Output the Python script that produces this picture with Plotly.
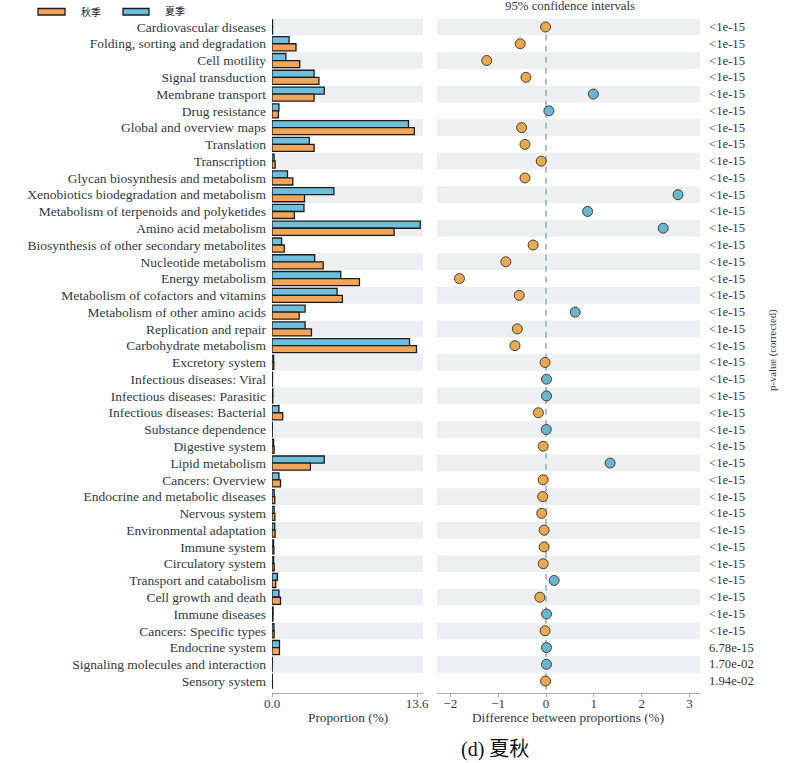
import plotly.graph_objects as go

categories = [
    "Cardiovascular diseases", "Folding, sorting and degradation", "Cell motility",
    "Signal transduction", "Membrane transport", "Drug resistance",
    "Global and overview maps", "Translation", "Transcription",
    "Glycan biosynthesis and metabolism", "Xenobiotics biodegradation and metabolism",
    "Metabolism of terpenoids and polyketides", "Amino acid metabolism",
    "Biosynthesis of other secondary metabolites", "Nucleotide metabolism",
    "Energy metabolism", "Metabolism of cofactors and vitamins",
    "Metabolism of other amino acids", "Replication and repair",
    "Carbohydrate metabolism", "Excretory system", "Infectious diseases: Viral",
    "Infectious diseases: Parasitic", "Infectious diseases: Bacterial",
    "Substance dependence", "Digestive system", "Lipid metabolism",
    "Cancers: Overview", "Endocrine and metabolic diseases", "Nervous system",
    "Environmental adaptation", "Immune system", "Circulatory system",
    "Transport and catabolism", "Cell growth and death", "Immune diseases",
    "Cancers: Specific types", "Endocrine system",
    "Signaling molecules and interaction", "Sensory system",
]

summer = [0.05, 1.6, 1.3, 3.95, 4.9, 0.65, 12.8, 3.5, 0.2, 1.45, 5.8, 3.0, 13.9, 0.9,
          4.0, 6.45, 6.1, 3.1, 3.1, 12.9, 0.15, 0.05, 0.08, 0.65, 0.03, 0.15, 4.9,
          0.65, 0.2, 0.2, 0.25, 0.15, 0.15, 0.5, 0.65, 0.1, 0.18, 0.7, 0.03, 0.03]
autumn = [0.05, 2.25, 2.6, 4.4, 3.95, 0.6, 13.35, 3.95, 0.3, 1.95, 3.05, 2.1, 11.45, 1.15,
          4.8, 8.2, 6.6, 2.55, 3.7, 13.55, 0.17, 0.04, 0.07, 1.0, 0.02, 0.2, 3.6,
          0.8, 0.26, 0.27, 0.29, 0.18, 0.2, 0.35, 0.8, 0.09, 0.2, 0.7, 0.02, 0.04]

diff = [-0.01, -0.54, -1.24, -0.42, 0.99, 0.06, -0.51, -0.44, -0.10, -0.44, 2.76, 0.87,
        2.45, -0.27, -0.84, -1.81, -0.56, 0.61, -0.60, -0.65, -0.02, 0.01, 0.01, -0.16,
        0.005, -0.06, 1.34, -0.06, -0.07, -0.09, -0.04, -0.04, -0.06, 0.17, -0.13,
        0.01, -0.02, 0.01, 0.01, -0.01]

pvalues = ["<1e-15"] * 37 + ["6.78e-15", "1.70e-02", "1.94e-02"]

group_names = ["秋季", "夏季"]
prop_ticks = [0, 13.6]
prop_ticktext = ["0.0", "13.6"]
diff_ticks = [-2, -1, 0, 1, 2, 3]

ORANGE = "#F0A65A"
BLUE = "#6DBFDD"
ORANGE_PT = "#E8A955"
BLUE_PT = "#69B6D2"
BAND = "#EDF0F1"
TXT = "#2f3a40"
SERIF = "Liberation Serif, Times New Roman, serif"

W, H = 799, 763
def px_x(p):
    return p / W
def px_y(p):
    return 1 - p / H

n = len(categories)
idx = list(range(n))

fig = go.Figure()

fig.add_trace(go.Bar(
    y=idx, x=summer, orientation="h", name=group_names[1],
    marker=dict(color=BLUE, line=dict(color="#1c1c1c", width=1.3)),
    xaxis="x", yaxis="y", showlegend=False,
))
fig.add_trace(go.Bar(
    y=idx, x=autumn, orientation="h", name=group_names[0],
    marker=dict(color=ORANGE, line=dict(color="#1c1c1c", width=1.3)),
    xaxis="x", yaxis="y", showlegend=False,
))

pt_colors = [BLUE_PT if d > 0 else ORANGE_PT for d in diff]
fig.add_trace(go.Scatter(
    x=diff, y=idx, mode="markers",
    marker=dict(size=10, color=pt_colors, line=dict(color="#4a3f2c", width=1)),
    xaxis="x2", yaxis="y", showlegend=False,
))

shapes = []
for i in idx:
    if i % 2 == 0:
        for xr in ("x domain", "x2 domain"):
            shapes.append(dict(type="rect", xref=xr, yref="y", x0=0, x1=1,
                               y0=i - 0.5, y1=i + 0.5, fillcolor=BAND,
                               line=dict(width=0), layer="below"))
shapes.append(dict(type="line", xref="x2", yref="y", x0=0, x1=0, y0=-0.85, y1=39.71,
                   line=dict(color="#9aaab2", width=1.5, dash="6px,5px"), layer="below"))

# legend boxes
shapes.append(dict(type="rect", xref="paper", yref="paper",
                   x0=px_x(38), x1=px_x(65), y0=px_y(15), y1=px_y(8.5),
                   fillcolor=ORANGE, line=dict(color="#1c1c1c", width=1.3)))
shapes.append(dict(type="rect", xref="paper", yref="paper",
                   x0=px_x(123), x1=px_x(149), y0=px_y(15), y1=px_y(8.5),
                   fillcolor=BLUE, line=dict(color="#1c1c1c", width=1.3)))

annotations = []
for i, p in enumerate(pvalues):
    annotations.append(dict(x=px_x(707), xref="paper", y=i, yref="y", text=p,
                            showarrow=False, xanchor="left", yanchor="middle",
                            font=dict(family=SERIF, size=12.7, color=TXT)))

annotations += [
    dict(x=px_x(79), y=px_y(12), xref="paper", yref="paper", text=group_names[0],
         showarrow=False, xanchor="left", yanchor="middle",
         font=dict(family="Noto Sans CJK SC", size=10, color="#222")),
    dict(x=px_x(163), y=px_y(10), xref="paper", yref="paper", text=group_names[1],
         showarrow=False, xanchor="left", yanchor="middle",
         font=dict(family="Noto Sans CJK SC", size=10, color="#222")),
    dict(x=px_x(570), y=px_y(5.5), xref="paper", yref="paper",
         text="95% confidence intervals", showarrow=False,
         xanchor="center", yanchor="middle",
         font=dict(family=SERIF, size=12.8, color=TXT)),
    dict(x=px_x(348), y=px_y(717), xref="paper", yref="paper",
         text="Proportion (%)", showarrow=False, xanchor="center", yanchor="middle",
         font=dict(family=SERIF, size=13.3, color=TXT)),
    dict(x=px_x(568), y=px_y(717), xref="paper", yref="paper",
         text="Difference between proportions (%)", showarrow=False,
         xanchor="center", yanchor="middle",
         font=dict(family=SERIF, size=13.3, color=TXT)),
    dict(x=px_x(772), y=px_y(350), xref="paper", yref="paper",
         text="p-value (corrected)", showarrow=False, textangle=-90,
         xanchor="center", yanchor="middle",
         font=dict(family=SERIF, size=10.7, color=TXT)),
    dict(x=px_x(495), y=px_y(749), xref="paper", yref="paper",
         text="(d) 夏秋", showarrow=False, xanchor="center", yanchor="middle",
         font=dict(family="Liberation Serif, Noto Sans CJK SC", size=20, color="#111")),
]

fig.update_layout(
    width=W, height=H,
    margin=dict(l=0, r=0, t=0, b=0, pad=0),
    paper_bgcolor="white", plot_bgcolor="rgba(0,0,0,0)",
    barmode="group", bargap=0.16, bargroupgap=0,
    shapes=shapes, annotations=annotations,
    xaxis=dict(domain=[px_x(272), px_x(423)], range=[0, 14.16], anchor="y",
               automargin=False,
               tickvals=prop_ticks, ticktext=prop_ticktext, showgrid=False,
               zeroline=False, showline=True, linecolor="#a4adb2", linewidth=1.2,
               ticks="outside", ticklen=3, tickcolor="#a4adb2", ticklabelstandoff=-5,
               tickfont=dict(family=SERIF, size=13, color=TXT)),
    xaxis2=dict(domain=[px_x(437), px_x(700)], range=[-2.28, 3.22], anchor="y",
                automargin=False,
                tickvals=diff_ticks, ticktext=[("−" + str(-t)) if t < 0 else str(t) for t in diff_ticks],
                showgrid=False, zeroline=False, showline=True, linecolor="#a4adb2",
                linewidth=1.2, ticks="outside", ticklen=3, tickcolor="#a4adb2",
                ticklabelstandoff=-5,
                tickfont=dict(family=SERIF, size=13, color=TXT)),
    yaxis=dict(domain=[px_y(693), px_y(18.6)], range=[39.71, -0.5], anchor="x",
               automargin=False,
               tickvals=idx, ticktext=categories, showgrid=False, zeroline=False,
               showline=False, ticks="", ticklabelstandoff=5,
               tickfont=dict(family=SERIF, size=13.5, color=TXT)),
)

fig.write_html("out.html", config={"displayModeBar": False},
               post_script="document.body.style.margin='0';document.body.style.padding='0';")
